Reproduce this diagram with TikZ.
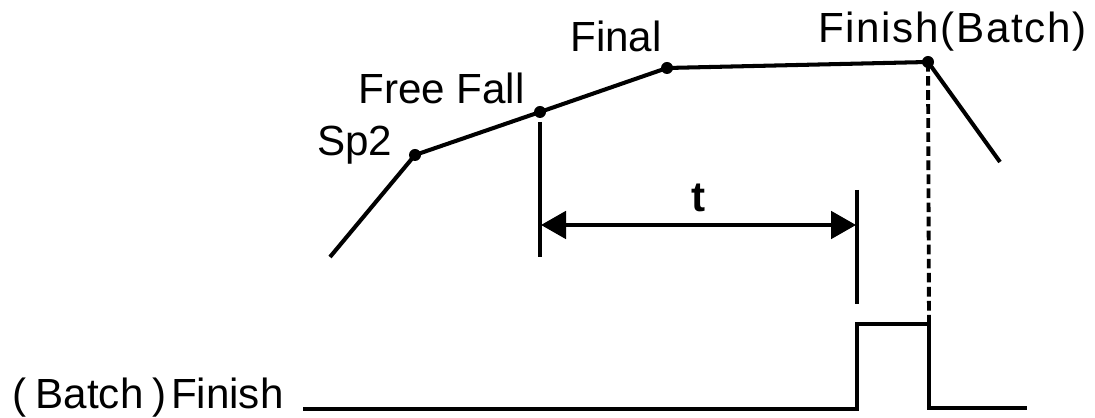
\documentclass[tikz,border=0pt]{standalone}
\usepackage{fontspec}
\setmainfont{Liberation Sans}
\usetikzlibrary{arrows.meta}
\begin{document}
\begin{tikzpicture}[x=0.02cm,y=0.02cm]
            \tikzstyle{curve}=[line width=2.3pt,line join=round]
            \tikzstyle{tick}=[line width=1.8pt]
            \tikzstyle{dot}=[circle,fill=black,inner sep=0pt,minimum size=0.24cm]
            \tikzstyle{lbl}=[inner sep=0pt,anchor=base west,font=\fontsize{24}{28}\selectfont]
            \tikzstyle{arrow}=[line width=2pt,{Triangle[length=0.5cm,width=0.55cm]}-{Triangle[length=0.5cm,width=0.55cm]}]
            \useasboundingbox (0,0) rectangle (1095,418);
            % anchor nodes
            \coordinate (s0) at (330,161);
            \node[dot] (sp2) at (415,263) {};
            \node[dot] (ff) at (540,306) {};
            \node[dot] (fin) at (667,350) {};
            \node[dot] (fb) at (928,356) {};
            \coordinate (e0) at (1000,256);
            % weight curve
            \draw[curve] (s0) -- (sp2.center) -- (ff.center) -- (fin.center) -- (fb.center) -- (e0);
            % labels
            \node[lbl] (lsp2) at (317,262) {Sp2};
            \node[lbl] (lff) at (358,314) {Free Fall};
            \node[lbl] (lfin) at (570,366) {Final};
            \node[lbl] (lfb) at (818,375) {\addfontfeature{LetterSpace=4}Finish(Batch)};
            % time t
            \coordinate (m1a) at (540,296);
            \coordinate (m1b) at (540,161);
            \coordinate (m2a) at (857,228);
            \coordinate (m2b) at (857,114);
            \draw[tick] (m1a) -- (m1b);
            \draw[tick] (m2a) -- (m2b);
            \coordinate (ta) at (541,193);
            \coordinate (tb) at (856,193);
            \draw[arrow] (ta) -- (tb);
            \node[inner sep=0pt,anchor=base,font=\fontsize{24}{28}\selectfont\bfseries] (t) at (699,206) {t};
            % finish signal
            \coordinate (d0) at (929,94);
            \draw[line width=2.2pt,dash pattern=on 5.5pt off 2.5pt] (fb.center) -- (d0);
            \node[lbl] (lsig) at (12,9) {(\hspace{0.22em}Batch\hspace{0.22em})\hspace{0.1em}Finish};
            \coordinate (p0) at (303,9);
            \coordinate (p1) at (857,9);
            \coordinate (p2) at (857,94);
            \coordinate (p3) at (929,10);
            \coordinate (p4) at (1027,10);
            \draw[curve,line join=miter] (p0) -- (p1) -- (p2) -- (d0) -- (p3) -- (p4);
\end{tikzpicture}
\end{document}
